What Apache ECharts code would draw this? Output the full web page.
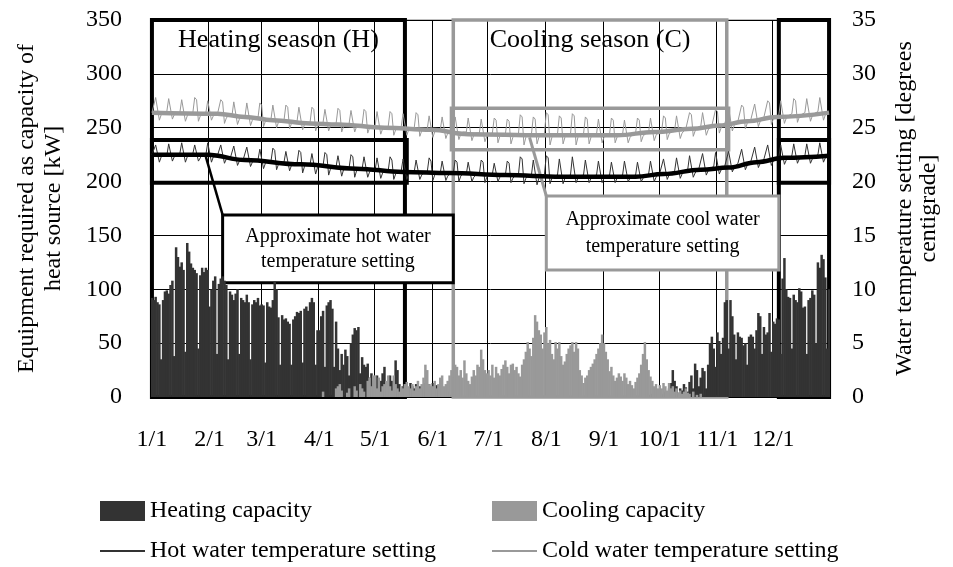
<!DOCTYPE html>
<html><head><meta charset="utf-8">
<script src="https://cdn.jsdelivr.net/npm/echarts@6/dist/echarts.min.js"></script>
<style>html,body{margin:0;padding:0;background:#fff}#c{width:953px;height:567px}</style>
</head><body><div id="c"></div>
<script>
const monthLengths = [31,28,31,30,31,30,31,31,30,31,30,31];
const monthTickLabels = ['1/1','2/1','3/1','4/1','5/1','6/1','7/1','8/1','9/1','10/1','11/1','12/1'];
const leftAxisTicks = {min:0, max:350, interval:50};
const rightAxisTicks = {min:0, max:35, interval:5};

// Daily heating capacity [kW]
const heatingCapacity = [
// Jan
92,90,93,88,86,35,90, 98,99,96,104,108,38,139, 130,121,125,118,42,143,135, 124,120,118,115,45,113,120, 116,120,118,
// Feb
84,100,108,112,40,105,110, 112,108,104,35,98,95,90, 96,100,40,92,90,88,95, 88,35,86,90,88,92,85,
// Mar
86,85,32,88,84,83,90, 107,100,74,30,76,72,73, 70,68,30,72,75,79,78, 80,32,82,84,80,88,92, 88,30,62,
// Apr
62,75,80,28,85,88,90, 82,28,70,45,25,40,30, 44,38,20,50,58,64,62, 65,22,37,30,28,31,18, 22,15,
// May
18,20,10,15,22,28,12, 8,20,15,10,34,25,12, 8,10,12,6,9,13,10, 8,12,6,10,8,5,13, 9,12,6,
// Jun
13,8,11,5,10,7,4, 3,5,0,2,0,3,0, 0,0,0,0,0,0,0, 0,0,0,0,0,0,0, 0,0,
// Jul
0,0,0,0,0,0,0, 0,0,0,0,0,0,0, 0,0,0,0,0,0,0, 0,0,0,0,0,0,0, 0,0,0,
// Aug
0,0,0,0,0,0,0, 0,0,0,0,0,0,0, 0,0,0,0,0,0,0, 0,0,0,0,0,0,0, 0,0,0,
// Sep
0,0,0,0,0,0,0, 0,0,0,0,0,0,0, 0,0,0,0,0,0,0, 0,0,0,2,0,3,0, 2,5,
// Oct
0,0,3,5,0,8,13, 25,15,10,4,8,6,12, 9,5,14,20,8,31,25, 10,18,27,24,8,30,50, 56,45,28,
// Nov
60,52,40,55,88,90,45, 90,75,58,35,60,56,55, 48,50,30,56,58,56,45, 62,78,75,40,65,58,60, 78,42,
// Dec
70,68,73,72,40,110,129, 100,93,92,45,95,90,88, 101,98,83,84,40,90,92, 99,95,50,125,120,132,128, 111,45,100
];

// Daily cooling capacity [kW]
const coolingCapacity = [
// Jan
0,0,0,0,0,0,0, 0,0,0,0,0,0,0, 0,0,0,0,0,0,0, 0,0,0,0,0,0,0, 0,0,0,
// Feb
0,0,0,0,0,0,0, 0,0,0,0,0,0,0, 0,0,0,0,0,0,0, 0,0,0,0,0,0,0,
// Mar
0,0,0,0,0,0,0, 0,0,0,0,0,0,0, 0,0,0,0,0,0,0, 0,0,0,0,0,0,0, 0,0,0,
// Apr
0,0,5,0,0,0,0, 0,0,8,10,12,6,0, 0,4,8,0,0,10,6, 0,12,8,5,0,15,18, 10,20,
// May
20,8,18,5,10,12,15, 20,10,6,20,12,8,5, 10,8,12,14,10,8,12, 6,10,15,8,12,18,30, 25,12,10,
// Jun
10,15,8,12,18,20,10, 12,15,20,25,18,30,28, 20,25,18,34,22,15,12, 19,25,20,30,28,44,35, 25,22,
// Jul
25,20,30,18,28,22,20, 26,30,34,28,22,30,31, 25,28,22,19,30,35,42, 51,45,38,55,76,70,62, 58,45,60,
// Aug
65,50,53,40,35,51,45, 51,38,30,33,40,45,48, 51,42,51,45,25,20,13, 18,20,25,28,31,35,40, 45,50,58,
// Sep
50,42,35,24,28,20,15, 18,22,19,15,22,18,12, 15,11,8,14,18,22,30, 40,51,35,25,19,15,10, 12,8,
// Oct
11,8,13,10,6,13,8, 10,5,8,4,6,3,5, 8,4,3,0,5,0,2, 0,3,0,0,0,0,0, 0,0,0,
// Nov
0,0,0,0,0,0,0, 0,0,0,0,0,0,0, 0,0,0,0,0,0,0, 0,0,0,0,0,0,0, 0,0,
// Dec
0,0,0,0,0,0,0, 0,0,0,0,0,0,0, 0,0,0,0,0,0,0, 0,0,0,0,0,0,0, 0,0,0
];

// Daily hot water temperature setting [deg C]
const hotWaterSetting = [
22.5,22.6,23.4,23.4,21.8,22.3,22.5,
22.5,22.4,23.5,23.5,21.9,22.3,22.6,
22.5,22.6,23.6,23.5,21.8,22.3,22.5,
22.4,22.6,23.4,23.4,21.9,22.2,22.5,
22.5,22.5,23.6,23.5,21.8,22.3,22.4,
22.3,22.4,23.4,23.3,21.7,22.1,22.3,
22.1,22.2,23.3,23.2,21.5,21.9,22.2,
22.0,22.1,23.2,23.1,21.4,21.8,22.0,
21.9,22.0,23.0,23.0,21.2,21.7,21.9,
21.8,21.9,23.1,22.9,21.1,21.6,21.8,
21.7,21.8,22.8,22.8,21.0,21.5,21.7,
21.6,21.7,22.9,22.7,20.8,21.4,21.6,
21.5,21.6,22.6,22.6,20.7,21.3,21.5,
21.4,21.5,22.7,22.5,20.6,21.2,21.4,
21.3,21.4,22.4,22.4,20.5,21.1,21.3,
21.2,21.3,22.5,22.3,20.4,21.0,21.2,
21.1,21.2,22.3,22.2,20.4,20.9,21.1,
21.0,21.1,22.2,22.1,20.3,20.8,21.0,
20.9,21.0,22.3,22.0,20.2,20.7,20.9,
20.9,21.0,22.1,22.0,20.2,20.7,20.9,
20.8,20.9,22.0,21.9,20.2,20.6,20.8,
20.8,20.9,22.2,21.9,20.1,20.6,20.8,
20.7,20.8,21.9,21.8,20.1,20.5,20.7,
20.7,20.8,22.0,21.8,20.0,20.5,20.7,
20.6,20.7,21.8,21.7,20.0,20.4,20.6,
20.6,20.7,22.0,21.8,19.9,20.4,20.6,
20.6,20.7,21.7,21.6,20.0,20.4,20.6,
20.5,20.6,21.9,21.7,19.9,20.3,20.5,
20.5,20.6,22.3,22.1,19.8,20.3,20.5,
20.5,20.6,22.0,21.9,19.7,20.3,20.5,
20.5,20.7,22.4,22.2,19.8,20.3,20.5,
20.5,20.6,22.1,22.0,19.8,20.3,20.5,
20.5,20.6,22.3,22.2,19.9,20.3,20.5,
20.5,20.6,22.0,21.9,19.9,20.3,20.5,
20.5,20.6,21.9,21.8,19.9,20.3,20.5,
20.5,20.6,21.8,21.7,19.9,20.3,20.5,
20.5,20.6,21.9,21.8,20.0,20.3,20.5,
20.5,20.6,21.8,21.7,20.0,20.3,20.5,
20.6,20.7,21.9,21.8,20.0,20.4,20.6,
20.8,20.9,22.1,22.0,20.2,20.6,20.8,
20.9,21.0,22.2,22.1,20.3,20.7,20.9,
21.0,21.1,22.4,22.3,20.4,20.8,21.0,
21.2,21.3,22.6,22.5,20.6,21.0,21.2,
21.3,21.4,22.7,22.6,20.7,21.1,21.3,
21.5,21.6,22.8,22.7,20.9,21.3,21.5,
21.7,21.8,23.0,22.9,21.1,21.5,21.7,
21.9,22.0,23.2,23.1,21.3,21.7,21.9,
22.1,22.2,23.4,23.3,21.5,21.9,22.1,
22.2,22.3,23.4,23.4,21.6,22.0,22.2,
22.3,22.4,23.5,23.4,21.7,22.1,22.3,
22.3,22.4,23.5,23.5,21.7,22.1,22.3,
22.4,22.5,23.6,23.5,21.8,22.2,22.4,
22.4
];

// Daily cold water temperature setting [deg C]
const coldWaterSetting = [
26.4,26.5,27.8,27.7,25.7,26.2,26.4,
26.4,26.5,27.7,27.6,25.8,26.2,26.4,
26.3,26.4,27.6,27.5,25.6,26.1,26.3,
26.3,26.4,27.8,27.6,25.6,26.1,26.3,
26.3,26.4,27.5,27.4,25.7,26.1,26.3,
26.1,26.2,27.6,27.4,25.4,25.9,26.1,
26.0,26.1,27.4,27.3,25.3,25.8,26.0,
25.9,26.0,27.3,27.2,25.2,25.7,25.9,
25.8,25.9,27.3,27.1,25.1,25.6,25.8,
25.7,25.8,27.1,27.0,25.0,25.5,25.7,
25.6,25.7,27.1,26.9,24.9,25.4,25.6,
25.5,25.6,26.9,26.8,24.8,25.3,25.5,
25.4,25.5,26.9,26.7,24.7,25.2,25.4,
25.4,25.5,26.7,26.6,24.7,25.2,25.4,
25.3,25.4,26.8,26.6,24.6,25.1,25.3,
25.3,25.4,26.6,26.5,24.6,25.1,25.3,
25.2,25.3,26.7,26.5,24.5,25.0,25.2,
25.1,25.2,26.5,26.4,24.4,24.9,25.1,
25.0,25.1,26.5,26.3,24.3,24.8,25.0,
25.0,25.1,26.3,26.2,24.3,24.8,25.0,
24.9,25.0,26.4,26.2,24.2,24.7,24.9,
24.8,24.9,26.1,26.0,24.1,24.6,24.8,
24.7,24.8,26.0,25.9,24.0,24.5,24.7,
24.6,24.7,26.0,25.9,23.9,24.4,24.6,
24.5,24.6,25.9,25.8,23.8,24.3,24.5,
24.4,24.5,25.8,25.7,23.7,24.2,24.4,
24.4,24.5,25.9,25.7,23.6,24.2,24.4,
24.3,24.4,25.8,25.6,23.5,24.1,24.3,
24.3,24.4,26.2,26.0,23.4,24.1,24.3,
24.3,24.4,26.0,25.8,23.5,24.1,24.3,
24.3,24.5,26.4,26.2,23.4,24.1,24.3,
24.3,24.4,26.1,25.9,23.5,24.1,24.3,
24.3,24.4,26.3,26.1,23.4,24.1,24.3,
24.3,24.4,26.0,25.8,23.5,24.1,24.3,
24.3,24.4,25.8,25.7,23.6,24.1,24.3,
24.3,24.4,25.9,25.7,23.6,24.1,24.3,
24.3,24.4,25.7,25.6,23.6,24.1,24.3,
24.4,24.5,25.9,25.7,23.7,24.2,24.4,
24.5,24.6,25.9,25.8,23.8,24.3,24.5,
24.6,24.7,26.1,25.9,23.9,24.4,24.6,
24.7,24.8,26.1,26.0,24.0,24.5,24.7,
24.9,25.0,26.4,26.2,24.2,24.7,24.9,
25.0,25.1,26.4,26.3,24.3,24.8,25.0,
25.2,25.3,26.7,26.5,24.5,25.0,25.2,
25.4,25.5,26.8,26.7,24.7,25.2,25.4,
25.6,25.7,27.1,26.9,24.9,25.4,25.6,
25.8,25.9,27.2,27.1,25.1,25.6,25.8,
26.0,26.1,27.5,27.3,25.3,25.8,26.0,
26.1,26.2,27.5,27.4,25.4,25.9,26.1,
26.2,26.3,27.7,27.5,25.5,26.0,26.2,
26.3,26.4,27.7,27.6,25.6,26.1,26.3,
26.4,26.5,27.8,27.7,25.7,26.2,26.4,
26.4
];

// Approximate (smoothed) settings: day index and value
const hotApproxDays   = [0,30,50,80,110,135,160,190,220,260,275,295,310,325,340,364];
const hotApproxValues = [22.5,22.5,22.0,21.6,21.2,20.9,20.8,20.6,20.45,20.45,20.7,21.1,21.3,21.8,22.2,22.4];
const coldApproxDays   = [0,35,50,65,85,100,125,150,170,210,250,270,290,305,320,336,364];
const coldApproxValues = [26.4,26.3,26.0,25.7,25.4,25.3,25.0,24.8,24.4,24.3,24.3,24.6,24.9,25.2,25.6,26.0,26.4];

// Build categories
const categories = [];
monthLengths.forEach((n, m) => { for (let d = 1; d <= n; d++) categories.push((m + 1) + '/' + d); });
const monthStartSet = new Set();
categories.forEach((c, i) => { if (monthTickLabels.indexOf(c) >= 0) monthStartSet.add(i); });
const isMonthStart = (i) => monthStartSet.has(i);
const hotApprox = hotApproxDays.map((d, i) => [d, hotApproxValues[i]]);
const coldApprox = coldApproxDays.map((d, i) => [d, coldApproxValues[i]]);

const FONT = '"Liberation Serif","Times New Roman",Times,serif';
const txt = (size) => ({fontFamily: FONT, fontSize: size, color: '#000'});
const noEmph = {disabled: true};

const chart = echarts.init(document.getElementById('c'), null, {renderer: 'canvas'});
const legendBase = {selectedMode: false, itemGap: 5, textStyle: txt(24), padding: 0, orient: 'horizontal'};

chart.setOption({
  animation: false,
  backgroundColor: '#fff',
  grid: {left: 151, right: 123, top: 20, bottom: 170, show: true, borderColor: '#808080', borderWidth: 1, containLabel: false, outerBoundsMode: 'none'},
  legend: [
    Object.assign({}, legendBase, {left: 100, top: 499, itemWidth: 45, itemHeight: 20, data: [{name: 'Heating capacity', icon: 'rect'}]}),
    Object.assign({}, legendBase, {left: 492, top: 499, itemWidth: 45, itemHeight: 20, data: [{name: 'Cooling capacity', icon: 'rect'}]}),
    Object.assign({}, legendBase, {left: 100, top: 539, itemWidth: 45, itemHeight: 2, data: [{name: 'Hot water temperature setting', icon: 'rect'}]}),
    Object.assign({}, legendBase, {left: 492, top: 539, itemWidth: 45, itemHeight: 2, data: [{name: 'Cold water temperature setting', icon: 'rect'}]})
  ],
  xAxis: {
    type: 'category', data: categories, boundaryGap: true,
    axisLine: {show: true, lineStyle: {color: '#000', width: 1}},
    axisTick: {show: true, inside: true, length: 5, interval: isMonthStart, lineStyle: {color: '#000'}},
    axisLabel: Object.assign({interval: isMonthStart, margin: 31, hideOverlap: false}, txt(24)),
    splitLine: {show: true, interval: isMonthStart, lineStyle: {color: '#000', width: 1}}
  },
  yAxis: [
    {
      type: 'value', min: leftAxisTicks.min, max: leftAxisTicks.max, interval: leftAxisTicks.interval,
      name: 'Equipment required as capacity of\nheat source [kW]', nameLocation: 'middle', nameRotate: 90, nameGap: 84,
      nameTextStyle: Object.assign({lineHeight: 27}, txt(24)),
      axisLine: {show: true, lineStyle: {color: '#000'}},
      axisTick: {show: true, inside: true, length: 6, lineStyle: {color: '#000'}},
      axisLabel: Object.assign({margin: 29}, txt(24)),
      splitLine: {show: true, lineStyle: {color: '#000', width: 1}}
    },
    {
      type: 'value', min: rightAxisTicks.min, max: rightAxisTicks.max, interval: rightAxisTicks.interval, position: 'right',
      name: 'Water temperature setting [degrees\ncentigrade]', nameLocation: 'middle', nameRotate: 90, nameGap: 63,
      nameTextStyle: Object.assign({lineHeight: 24}, txt(24)),
      axisLine: {show: true, lineStyle: {color: '#808080'}},
      axisTick: {show: false},
      axisLabel: Object.assign({margin: 22}, txt(24)),
      splitLine: {show: false}
    }
  ],
  series: [
    {name: 'Heating capacity', type: 'bar', data: heatingCapacity, barWidth: 2.5, barGap: '-100%',
     itemStyle: {color: '#333333'}, emphasis: noEmph, silent: true, z: 2},
    {name: 'Cooling capacity', type: 'bar', data: coolingCapacity, barWidth: 2.5, barGap: '-100%',
     itemStyle: {color: '#999999'}, emphasis: noEmph, silent: true, z: 2},
    {name: 'Hot water temperature setting', type: 'line', yAxisIndex: 1, data: hotWaterSetting, symbol: 'none',
     itemStyle: {color: '#333333'}, lineStyle: {color: '#333333', width: 1}, emphasis: noEmph, silent: true, z: 3},
    {name: 'Cold water temperature setting', type: 'line', yAxisIndex: 1, data: coldWaterSetting, symbol: 'none',
     itemStyle: {color: '#999999'}, lineStyle: {color: '#999999', width: 1}, emphasis: noEmph, silent: true, z: 3},
    {name: 'Approximate cool water temperature setting', type: 'line', yAxisIndex: 1, data: coldApprox, symbol: 'none',
     smooth: 0.4, smoothMonotone: 'x', clip: false,
     lineStyle: {color: '#999999', width: 4.5}, itemStyle: {color: '#999999'}, emphasis: noEmph, silent: true, z: 4,
     markArea: {silent: true, itemStyle: {color: 'rgba(0,0,0,0)', borderColor: '#999999', borderWidth: 3.5},
       data: [
         [{name: 'Cooling season (C)', xAxis: 162, yAxis: 0,
           label: Object.assign({show: true, position: 'insideTop', distance: 9}, txt(26))},
          {xAxis: 309, yAxis: 35}],
         [{xAxis: 161, yAxis: 22.95, label: {show: false}}, {xAxis: 310, yAxis: 26.8}]
       ]}},
    {name: 'Approximate hot water temperature setting', type: 'line', yAxisIndex: 1, data: hotApprox, symbol: 'none',
     smooth: 0.4, smoothMonotone: 'x', clip: false,
     lineStyle: {color: '#000000', width: 4.5}, itemStyle: {color: '#000000'}, emphasis: noEmph, silent: true, z: 5,
     markArea: {silent: true, itemStyle: {color: 'rgba(0,0,0,0)', borderColor: '#000000', borderWidth: 4},
       data: [
         [{name: 'Heating season (H)', xAxis: 0, yAxis: 0,
           label: Object.assign({show: true, position: 'insideTop', distance: 9}, txt(26))},
          {xAxis: 136, yAxis: 35}],
         [{xAxis: 337, yAxis: 0, label: {show: false}}, {xAxis: 364, yAxis: 35}],
         [{xAxis: 0, yAxis: 19.9, label: {show: false}}, {xAxis: 137, yAxis: 23.85}],
         [{xAxis: 337, yAxis: 19.9, label: {show: false}}, {xAxis: 364, yAxis: 23.85}]
       ]}},
    {name: 'annotations', type: 'line', yAxisIndex: 1, data: [], symbol: 'none', clip: false, silent: true, z: 10,
     markLine: {silent: true, symbol: ['none', 'none'], label: {show: false},
       data: [
         [{coord: [29, 22.3], lineStyle: {color: '#000', width: 2.5, type: 'solid'}}, {coord: [38, 16.9]}],
         [{coord: [203, 24.1], lineStyle: {color: '#999', width: 3, type: 'solid'}}, {coord: [212, 18.66]}]
       ]},
     markArea: {silent: true,
       data: [
         [{name: 'Approximate hot water\ntemperature setting', xAxis: 38, yAxis: 10.6,
           itemStyle: {color: '#fff', borderColor: '#000', borderWidth: 3},
           label: Object.assign({show: true, position: 'inside', lineHeight: 25, align: 'center', verticalAlign: 'middle'}, txt(20))},
          {xAxis: 162, yAxis: 16.9}],
         [{name: 'Approximate cool water\ntemperature setting', xAxis: 212, yAxis: 11.8,
           itemStyle: {color: '#fff', borderColor: '#999', borderWidth: 3},
           label: Object.assign({show: true, position: 'inside', lineHeight: 27, align: 'center', verticalAlign: 'middle'}, txt(20))},
          {xAxis: 337, yAxis: 18.66}]
       ]}}
  ]
});
</script>
</body></html>
